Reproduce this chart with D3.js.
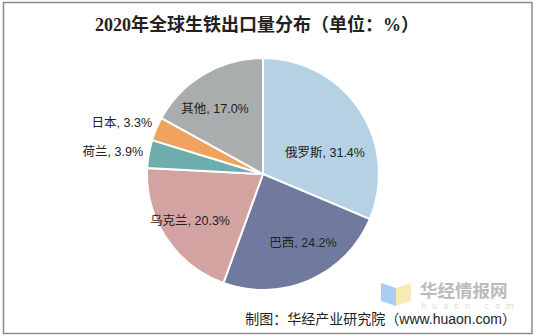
<!DOCTYPE html>
<html>
<head>
<meta charset="utf-8">
<script src="https://cdn.jsdelivr.net/npm/d3@7"></script>
<style>
  html, body { margin: 0; padding: 0; background: #fff; }
  svg { display: block; }
</style>
</head>
<body>
<svg id="chart" width="535" height="335"></svg>
<script>
// Pig iron export share by country, 2020 (%)
const categories = ["俄罗斯", "巴西", "乌克兰", "荷兰", "日本", "其他"];
const shares = [31.4, 24.2, 20.3, 3.9, 3.3, 17.0];
const colors = ["#b5d1e3", "#6f7a9e", "#d3a3a2", "#6eadad", "#f0a25e", "#a9adad"];

const svg = d3.select("#chart");
const W = 535, H = 335;

// outer frame
svg.append("rect")
  .attr("x", 3.5).attr("y", 2.5)
  .attr("width", W - 6.5).attr("height", H - 4)
  .attr("fill", "#fff")
  .attr("stroke", "#8c8c8c").attr("stroke-width", 1.5);

// title
svg.append("text")
  .attr("x", 257).attr("y", 31)
  .attr("text-anchor", "middle")
  .attr("font-family", "'Liberation Serif', 'Noto Sans CJK SC', serif")
  .attr("font-weight", "bold")
  .attr("font-size", 18)
  .attr("fill", "#222")
  .text("2020年全球生铁出口量分布（单位：%）");

const cx = 263, cy = 174, r = 116;

const data = categories.map((c, i) => ({ name: c, value: shares[i], color: colors[i] }));

const pie = d3.pie().value(d => d.value).sort(null);
const arc = d3.arc().innerRadius(0).outerRadius(r);
const arcs = pie(data);

const g = svg.append("g").attr("transform", `translate(${cx},${cy})`);

g.selectAll("path")
  .data(arcs)
  .join("path")
  .attr("d", arc)
  .attr("fill", d => d.data.color)
  .attr("stroke", "#fff")
  .attr("stroke-width", 2)
  .attr("stroke-linejoin", "round");

// label anchor offsets relative to the pie centre
const labelPos = {
  "俄罗斯": { x: 62, y: -21, anchor: "middle" },
  "巴西": { x: 40, y: 69, anchor: "middle" },
  "乌克兰": { x: -73, y: 47, anchor: "middle" },
  "荷兰": { x: -120, y: -22, anchor: "end" },
  "日本": { x: -111, y: -51, anchor: "end" },
  "其他": { x: -48, y: -65, anchor: "middle" }
};
const labelFont = "'Liberation Sans', 'Noto Sans CJK SC', Arial, sans-serif";

g.selectAll("text.lbl")
  .data(arcs)
  .join("text")
  .attr("class", "lbl")
  .attr("font-family", labelFont)
  .attr("font-size", 12.5)
  .attr("fill", "#222")
  .attr("dominant-baseline", "central")
  .attr("x", d => labelPos[d.data.name].x)
  .attr("y", d => labelPos[d.data.name].y)
  .attr("text-anchor", d => labelPos[d.data.name].anchor)
  .text(d => `${d.data.name}, ${d.data.value.toFixed(1)}%`);

// watermark logo
const logo = svg.append("g").attr("opacity", 0.75);
logo.append("path")
  .attr("d", "M381,283 L396,288 L396,306 L381,301 Z")
  .attr("fill", "#8fbcef");
logo.append("path")
  .attr("d", "M396,288 L411,283 L411,301 L396,306 Z")
  .attr("fill", "#f5e39c");
logo.append("text")
  .attr("x", 420).attr("y", 297)
  .attr("font-family", "'Noto Sans CJK SC', sans-serif")
  .attr("font-weight", "bold")
  .attr("font-size", 17.5)
  .attr("fill", "#a5a5a5")
  .text("华经情报网");
logo.append("text")
  .attr("x", 421).attr("y", 309)
  .attr("font-family", "'DejaVu Sans', sans-serif")
  .attr("font-size", 8)
  .attr("letter-spacing", 6)
  .attr("fill", "#d0d0d0")
  .text("huaon.com");

// source note
svg.append("text")
  .attr("x", 516).attr("y", 324)
  .attr("text-anchor", "end")
  .attr("font-family", labelFont)
  .attr("font-size", 14)
  .attr("fill", "#222")
  .text("制图：华经产业研究院（www.huaon.com）");
</script>
</body>
</html>
